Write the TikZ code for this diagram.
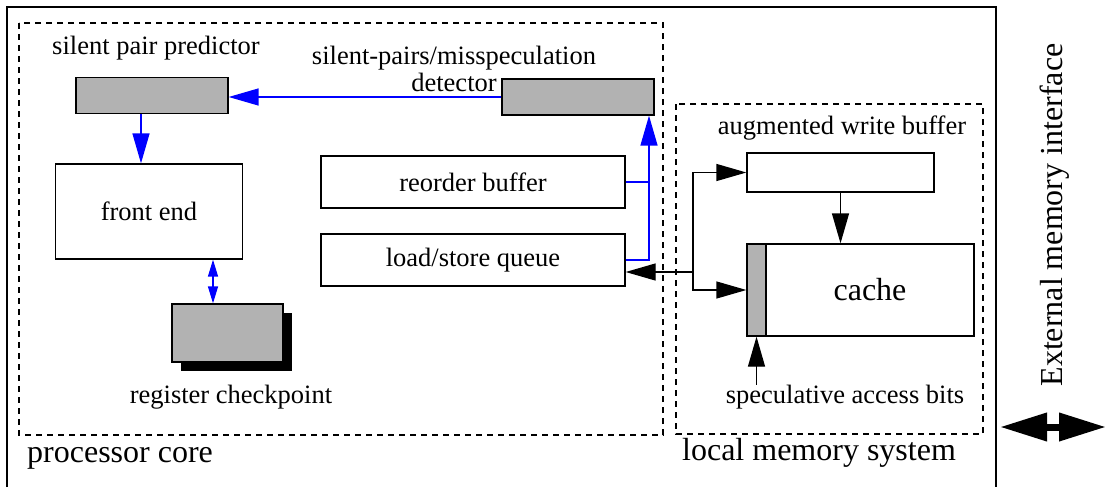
\documentclass[tikz,border=0pt]{standalone}
\usepackage{fontspec}
\setmainfont{Liberation Serif}
\usetikzlibrary{arrows.meta,shadows}
\definecolor{boxgray}{gray}{0.7}

\begin{document}
\begin{tikzpicture}[x=1pt, y=-1pt,
  lbl/.style={font=\fontsize{26.5}{27}\selectfont, inner sep=0pt},
  biglbl/.style={font=\fontsize{32}{34}\selectfont, inner sep=0pt},
  wbox/.style={draw, rectangle, line width=1.3pt, fill=white, inner sep=0pt, font=\fontsize{26.5}{27}\selectfont},
  gbox/.style={wbox, fill=boxgray},
  region/.style={draw, line width=1.2pt, dash pattern=on 6pt off 5pt},
  barrow/.style={draw=blue, line width=1.4pt, arrows=-{Triangle[length=30pt, width=17pt]}},
  karrow/.style={line width=1.3pt, arrows=-{Triangle[length=30pt, width=17pt]}}]
\useasboundingbox (0,0) rectangle (1107,487);
\draw[line width=1.6pt] (7,487) -- (7,7) -- (996,7) -- (996,487);
\draw[region] (19,23) rectangle (663,435);
\draw[region] (676,104) rectangle (983,434);
\node  (pred)[gbox, minimum width=152pt, minimum height=36pt] at (152,95.5) {};
\node  (det)[gbox, minimum width=152pt, minimum height=36pt] at (578,97) {};
\node  (fe)[wbox, minimum width=187pt, minimum height=95pt] at (149,211.5) {front end};
\node  (reg)[gbox, minimum width=111pt, minimum height=58pt, drop shadow={shadow xshift=9pt, shadow yshift=-9pt, fill=black, opacity=1}] at (227.5,333) {};
\node  (rob)[wbox, minimum width=304pt, minimum height=52pt] at (473,182) {reorder buffer};
\node  (lsq)[wbox, minimum width=304pt, minimum height=52pt] at (473,260) {load/store queue};
\node  (wb)[wbox, minimum width=187pt, minimum height=39pt] at (840.5,172.5) {};
\node  (cache)[wbox, minimum width=208pt, minimum height=92pt, font=\fontsize{32}{34}\selectfont] at (870,290) {cache};
\node  (sab)[gbox, minimum width=19pt, minimum height=92pt] at (756.5,290) {};
\node  (predlbl)[lbl] at (156,48) {silent pair predictor};
\node  (detlbl)[lbl, align=center] at (454,69) {silent-pairs/misspeculation\\detector};
\node  (reglbl)[lbl] at (231,397) {register checkpoint};
\node  (wblbl)[lbl] at (842,128) {augmented write buffer};
\node  (sablbl)[lbl] at (845,397) {speculative access bits};
\node  (corelbl)[biglbl, anchor=west] at (27,458) {processor core};
\node  (lmslbl)[biglbl] at (819,453) {local memory system};
\node  (extlbl)[biglbl, rotate=90] at (1055,215) {External memory interface};
\coordinate (bus) at (649,0);
\coordinate (split) at (693,272);
\coordinate (ckx) at (213,0);
\coordinate (extL) at (1000,427);
\coordinate (extR) at (1106,427);
\draw[barrow] (det.west) -- (det.west -| pred.east);
\draw[barrow] ([xshift=-11pt]pred.south) -- ([xshift=-11pt]pred.south |- fe.north);
\draw[barrow, arrows={Triangle[length=17pt, width=10pt]}-{Triangle[length=17pt, width=10pt]}] (fe.south -| ckx) -- (reg.north -| ckx);
\draw[barrow] (lsq.east) -| (det.south -| bus);
\draw[draw=blue, line width=1.4pt] (rob.east) -- (rob.east -| bus);
\draw[karrow] (split) -- (split -| lsq.east);
\draw[karrow] (split) |- (wb.west);
\draw[karrow] (split) |- (sab.west);
\draw[karrow] (wb.south) -- (wb.south |- cache.north);
\draw[karrow] (sablbl.north -| sab.south) -- (sab.south);
\draw[line width=7pt, arrows={Triangle[length=47pt, width=27pt]}-{Triangle[length=47pt, width=27pt]}] (extL) -- (extR);
\end{tikzpicture}
\end{document}
